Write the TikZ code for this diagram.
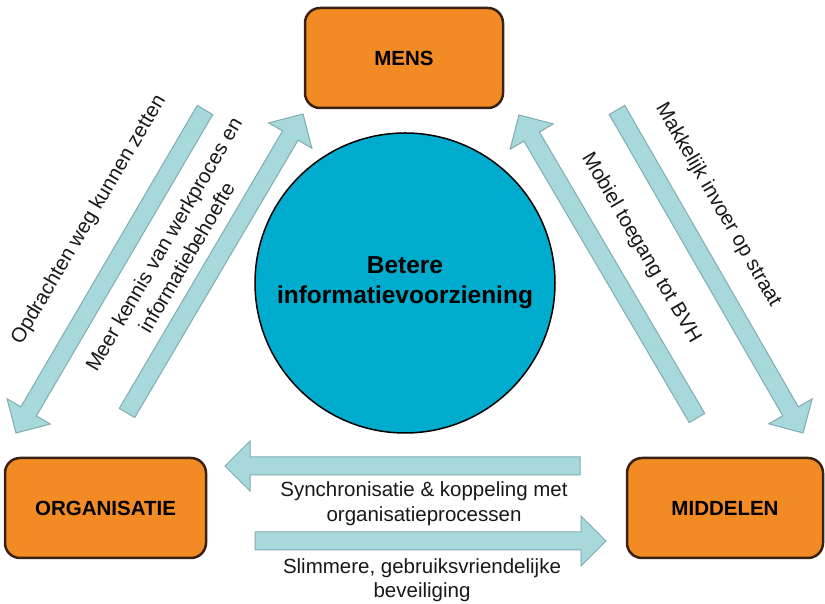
\documentclass[tikz,border=0pt]{standalone}
\usepackage{fontspec}
\setmainfont{Liberation Sans}
\usetikzlibrary{calc}

\definecolor{boxorange}{RGB}{242,139,36}
\definecolor{boxedge}{RGB}{58,34,18}
\definecolor{hubblue}{RGB}{0,172,205}
\definecolor{flowfill}{RGB}{167,217,220}
\definecolor{flowedge}{RGB}{128,172,176}

% broad block arrow from the tail coordinate #1 to the tip coordinate #2
\newcommand{\flowarrow}[2]{%
  \filldraw[flowarrowstyle]
    ($(#1)!9pt!90:(#2)$)
    -- ($($(#2)!25pt!(#1)$)!9pt!90:(#2)$)
    -- ($($(#2)!25pt!(#1)$)!25pt!90:(#2)$)
    -- (#2)
    -- ($($(#2)!25pt!(#1)$)!25pt!-90:(#2)$)
    -- ($($(#2)!25pt!(#1)$)!9pt!-90:(#2)$)
    -- ($(#1)!9pt!-90:(#2)$) -- cycle;}

\tikzset{
  flowarrowstyle/.style={fill=flowfill, draw=flowedge, line width=1pt, line join=miter},
  entity/.style={rectangle, rounded corners=15pt, fill=boxorange, draw=boxedge,
    line width=2.5pt, minimum width=198pt, minimum height=100pt, inner sep=0pt,
    font=\bfseries\fontsize{20.5}{24}\selectfont},
  hub/.style={circle, fill=hubblue, draw=black, line width=1.5pt,
    minimum size=300pt, inner sep=0pt, align=center,
    font=\bfseries\fontsize{24.5}{30}\selectfont},
  note/.style={align=center, inner sep=0pt, text=black!90,
    font=\fontsize{20.5}{24.5}\selectfont},
}

\begin{document}
\begin{tikzpicture}[x=1pt,y=1pt]
  \useasboundingbox (0,0) rectangle (825,604);
  \fill[white] (0,0) rectangle (825,604);

  % the three parties and the shared goal
  \node[entity] (mens) at (404,546) {MENS};
  \node[entity, minimum width=201pt] (org) at (105.5,96) {ORGANISATIE};
  \node[entity, minimum width=196pt] (mid) at (725,96) {MIDDELEN};
  \node[hub] (hub) at (405,321) {Betere\\informatievoorziening};

  % arrow end points
  \coordinate (opdA) at (205,494);  \coordinate (opdB) at (16,171);
  \coordinate (meerA) at (127,191); \coordinate (meerB) at (303,490);
  \coordinate (mobA) at (697,186);  \coordinate (mobB) at (519,489);
  \coordinate (makA) at (617,494);  \coordinate (makB) at (803,171);
  \coordinate (synA) at (580,138);  \coordinate (synB) at (225,138);
  \coordinate (slimA) at (255,63);  \coordinate (slimB) at (606,63);

  \flowarrow{opdA}{opdB}
  \flowarrow{meerA}{meerB}
  \flowarrow{mobA}{mobB}
  \flowarrow{makA}{makB}
  \flowarrow{synA}{synB}
  \flowarrow{slimA}{slimB}

  % arrow labels
  \node[note, rotate=59.5] (opdT) at (89,384) {Opdrachten weg kunnen zetten};
  \node[note, rotate=59.7, font=\fontsize{20.5}{26.5}\selectfont] (meerT) at (175,353)
    {Meer kennis van werkproces en\\informatiebehoefte};
  \node[note, rotate=-59.6] (mobT) at (641,356) {Mobiel toegang tot BVH};
  \node[note, rotate=-60] (makT) at (718,399) {Makkelijk invoer op straat};
  \node[note] (synT) at (424,100.5) {Synchronisatie \& koppeling met\\organisatieprocessen};
  \node[note] (slimT) at (422,24) {Slimmere, gebruiksvriendelijke\\beveiliging};
\end{tikzpicture}
\end{document}
